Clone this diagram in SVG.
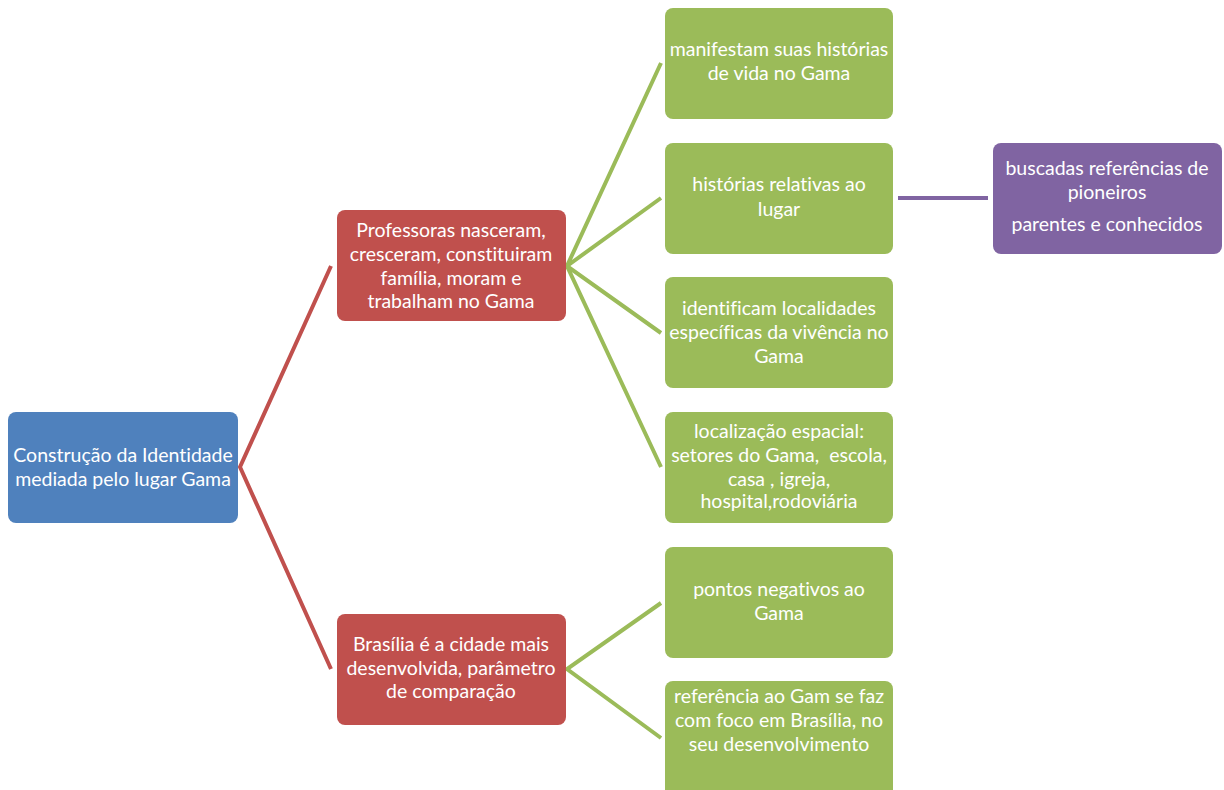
<svg xmlns="http://www.w3.org/2000/svg" width="1224" height="790" viewBox="0 0 1224 790">
  <style>
    .box { stroke: none; }
    .blue { fill: #4F81BD; }
    .red { fill: #C0504D; }
    .green { fill: #9BBB59; }
    .purple { fill: #8064A2; }
    .lbl { font-family: Lato, "Open Sans", "Liberation Sans", sans-serif; font-size: 19.5px; fill: #ffffff; text-anchor: middle; font-variant-ligatures: none; font-feature-settings: "liga" 0, "dlig" 0; }
    .c-red { stroke: #C0504D; stroke-width: 4; fill: none; }
    .c-green { stroke: #9BBB59; stroke-width: 4; fill: none; }
    .c-purple { stroke: #8064A2; stroke-width: 4; fill: none; }
  </style>

  <rect width="1224" height="790" fill="#ffffff"/>

  <!-- connectors -->
  <g id="connectors">
    <path class="c-red" d="M331,266 L240,467 L331,669"/>
    <path class="c-green" d="M661,63 L567,266 L661,198"/>
    <path class="c-green" d="M661,333 L567,266 L661,467"/>
    <path class="c-green" d="M661,603 L567,669 L661,738"/>
    <path class="c-purple" d="M898,198 L988,198"/>
  </g>

  <g id="root">
    <rect class="box blue" x="8" y="412" width="230" height="111" rx="8"/>
    <text class="lbl" x="123" y="462">Construção da Identidade</text>
    <text class="lbl" x="123" y="486">mediada pelo lugar Gama</text>
  </g>

  <g id="professoras">
    <rect class="box red" x="337" y="210" width="229" height="111" rx="8"/>
    <text class="lbl" x="451" y="237">Professoras nasceram,</text>
    <text class="lbl" x="451" y="261">cresceram, constituiram</text>
    <text class="lbl" x="451" y="285">família, moram e</text>
    <text class="lbl" x="451" y="308">trabalham no Gama</text>
  </g>

  <g id="brasilia">
    <rect class="box red" x="337" y="614" width="229" height="111" rx="8"/>
    <text class="lbl" x="451" y="651">Brasília é a cidade mais</text>
    <text class="lbl" x="451" y="675">desenvolvida, parâmetro</text>
    <text class="lbl" x="451" y="698">de comparação</text>
  </g>

  <g id="manifestam">
    <rect class="box green" x="665" y="8" width="228" height="111" rx="8"/>
    <text class="lbl" x="779" y="56">manifestam suas histórias</text>
    <text class="lbl" x="779" y="80">de vida no Gama</text>
  </g>

  <g id="historias">
    <rect class="box green" x="665" y="143" width="228" height="111" rx="8"/>
    <text class="lbl" x="779" y="191">histórias relativas ao</text>
    <text class="lbl" x="779" y="216">lugar</text>
  </g>

  <g id="identificam">
    <rect class="box green" x="665" y="277" width="228" height="111" rx="8"/>
    <text class="lbl" x="779" y="315">identificam localidades</text>
    <text class="lbl" x="779" y="339">específicas da vivência no</text>
    <text class="lbl" x="779" y="363">Gama</text>
  </g>

  <g id="localizacao">
    <rect class="box green" x="665" y="412" width="228" height="111" rx="8"/>
    <text class="lbl" x="779" y="438">localização espacial:</text>
    <text class="lbl" x="779" y="462" xml:space="preserve">setores do Gama,  escola,</text>
    <text class="lbl" x="779" y="486">casa , igreja,</text>
    <text class="lbl" x="779" y="508">hospital,rodoviária</text>
  </g>

  <g id="negativos">
    <rect class="box green" x="665" y="547" width="228" height="111" rx="8"/>
    <text class="lbl" x="779" y="596">pontos negativos ao</text>
    <text class="lbl" x="779" y="620">Gama</text>
  </g>

  <g id="referencia">
    <rect class="box green" x="665" y="681" width="228" height="120" rx="8"/>
    <text class="lbl" x="779" y="703">referência ao Gam se faz</text>
    <text class="lbl" x="779" y="727">com foco em Brasília, no</text>
    <text class="lbl" x="779" y="751">seu desenvolvimento</text>
  </g>

  <g id="pioneiros">
    <rect class="box purple" x="993" y="143" width="229" height="111" rx="8"/>
    <text class="lbl" x="1107" y="175">buscadas referências de</text>
    <text class="lbl" x="1107" y="199">pioneiros</text>
    <text class="lbl" x="1107" y="231">parentes e conhecidos</text>
  </g>
</svg>
